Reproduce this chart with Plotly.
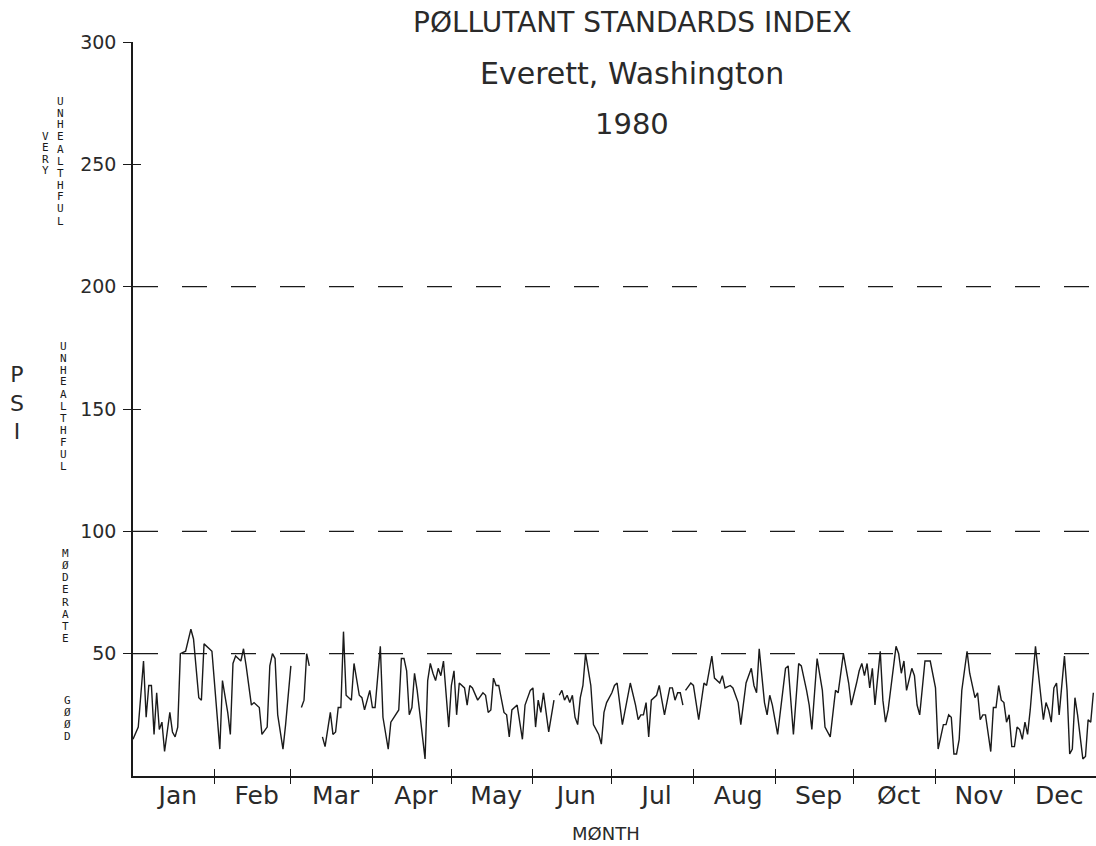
import plotly.graph_objects as go

# ---------------- data (day of year 1980, PSI value) ----------------
month_names = ["Jan", "Feb", "Mar", "Apr", "May", "Jun",
               "Jul", "Aug", "Sep", "Øct", "Nov", "Dec"]
month_starts = [0, 31, 60, 91, 121, 152, 182, 213, 244, 274, 305, 335, 366]
y_ticks = [50, 100, 150, 200, 250, 300]
thresholds = [50, 100, 200]

seg1_day = [0, 2, 4, 5, 6, 7, 8, 9, 10, 11, 12, 14, 15, 16, 17, 18, 20, 22, 23, 25,
            26, 27, 29, 30, 33, 34, 36, 37, 38, 39, 41, 42, 43, 45, 46, 48, 49, 51, 52, 53,
            54, 55, 57, 58, 60]
seg1_psi = [15, 20, 47, 24, 37, 37, 17, 34, 19, 22, 10, 26, 18, 16, 20, 50, 51, 60, 56, 32,
            31, 54, 52, 51, 11, 39, 26, 17, 46, 49, 47, 52, 45, 29, 30, 28, 17, 20, 45, 50,
            48, 25, 11, 21, 45]

seg2_day = [64, 65, 66, 67]
seg2_psi = [28, 31, 50, 45]

seg3_day = [72, 73, 75, 76, 77, 78, 79, 80, 81, 83, 84, 86, 87, 88, 90, 91, 92, 94, 95, 97,
            98, 101, 102, 103, 104, 105, 106, 107, 108, 111, 112, 113, 114, 115, 116, 117, 118, 120, 121, 122,
            123, 124, 126, 127, 128, 129, 131, 133, 134, 135, 136, 137, 138, 139, 141, 142, 143, 144, 146, 148,
            149, 151, 152, 153, 154, 155, 156, 158, 160]
seg3_psi = [16, 12, 26, 17, 18, 28, 28, 59, 33, 31, 46, 33, 32, 27, 35, 28, 28, 53, 24, 11,
            22, 27, 48, 48, 43, 25, 28, 42, 35, 7, 39, 46, 42, 39, 44, 41, 47, 20, 37, 43,
            25, 38, 36, 29, 37, 36, 31, 34, 33, 26, 27, 40, 37, 37, 26, 25, 16, 27, 29, 15,
            29, 35, 36, 20, 31, 26, 34, 18, 31]

seg4_day = [162, 163, 164, 165, 166, 167, 168, 169, 170, 171, 172, 174, 175, 177, 178, 179, 180, 182, 183, 184,
            186, 188, 189, 191, 192, 193, 194, 195, 196, 197, 199, 200, 202, 204, 205, 206, 207, 208, 209]
seg4_psi = [33, 35, 31, 33, 30, 33, 24, 21, 32, 37, 50, 37, 21, 17, 13, 26, 30, 34, 37, 38,
            21, 32, 38, 29, 23, 25, 25, 30, 16, 31, 33, 37, 25, 36, 36, 31, 34, 34, 29]

seg5_day = [210, 212, 213, 215, 217, 218, 220, 221, 223, 224,
            225, 227, 228, 230, 231, 233, 235, 236, 237, 238,
            240, 241, 242, 243, 245, 247, 248, 249, 250, 251,
            253, 254, 256, 257, 258, 260, 262, 263, 265, 266,
            267, 268, 270, 272, 273, 275, 276, 277, 278, 279,
            280, 281, 282, 283, 284, 285, 286, 287, 289, 290,
            291, 292, 293, 294, 296, 297, 298, 299, 301, 303,
            305, 306, 308, 309, 310, 311, 312, 313, 314, 315,
            317, 318, 320, 321, 322, 323, 324, 326, 327, 328,
            329, 330, 331, 332, 333, 334, 335, 336, 337, 338,
            339, 340, 341, 343, 344, 346, 347, 348, 349, 350,
            351, 352, 354, 355, 356, 357, 358, 359, 361, 362,
            363, 364, 365]
seg5_psi = [35, 38, 37, 23, 38, 37, 49, 40, 38, 41,
            36, 37, 36, 30, 21, 38, 44, 37, 34, 52,
            30, 25, 33, 29, 17, 35, 44, 45, 31, 17,
            46, 45, 35, 29, 19, 48, 35, 20, 16, 27,
            35, 34, 50, 38, 29, 38, 43, 46, 41, 46,
            36, 44, 29, 40, 51, 31, 22, 27, 44, 53,
            50, 42, 47, 35, 44, 41, 29, 25, 47, 47,
            36, 11, 21, 21, 25, 24, 9, 9, 15, 35,
            51, 42, 32, 34, 23, 25, 25, 10, 28, 28,
            37, 31, 30, 22, 25, 12, 12, 20, 19, 15,
            22, 17, 27, 53, 43, 23, 30, 27, 22, 36,
            38, 25, 49, 35, 9, 11, 32, 25, 7, 8,
            23, 22, 34]

category_labels = ["VERY", "UNHEALTHFUL", "UNHEALTHFUL", "MØDERATE", "GØØD"]

# ---------------- build ----------------
segments = [(seg1_day, seg1_psi), (seg2_day, seg2_psi), (seg3_day, seg3_psi),
            (seg4_day, seg4_psi), (seg5_day, seg5_psi)]
days, psi = [], []
for d, v in segments:
    days += d + [None]
    psi += v + [None]

W, H = 1096, 846
L, R, T, B = 133, 0, 42, 70
pw, ph = W - L - R, H - T - B


def pxx(x):
    return (x - L) / pw


def pyy(y):
    return (T + ph - y) / ph


INK = "#1a1a1a"
TXT = "#2a2a2a"
FONT = "DejaVu Sans"

fig = go.Figure()
fig.add_trace(go.Scatter(x=days, y=psi, mode="lines", connectgaps=False,
                         line=dict(color=INK, width=1.4), showlegend=False,
                         hoverinfo="skip"))
# helper traces so overlay axes (for crossing tick marks) are drawn
fig.add_trace(go.Scatter(x=[0], y=[0], xaxis="x2", yaxis="y", mode="markers",
                         marker=dict(opacity=0), showlegend=False, hoverinfo="skip"))
fig.add_trace(go.Scatter(x=[0], y=[0], xaxis="x3", yaxis="y2", mode="markers",
                         marker=dict(opacity=0), showlegend=False, hoverinfo="skip"))

mid_months = [(month_starts[i] + month_starts[i + 1]) / 2 for i in range(12)]

for t in thresholds:
    fig.add_shape(type="line", xref="paper", x0=0, x1=1, yref="y", y0=t, y1=t,
                  line=dict(color=INK, width=1.3, dash="25px,24px"))

annotations = []
# titles
for txt, yc, size in [("PØLLUTANT STANDARDS INDEX", 22, 28),
                      ("Everett, Washington", 73, 30),
                      ("1980", 124, 29)]:
    annotations.append(dict(text=txt, xref="paper", yref="paper", x=pxx(632), y=pyy(yc),
                            xanchor="center", yanchor="middle", showarrow=False,
                            font=dict(family=FONT, size=size, color=TXT)))
annotations.append(dict(text="MØNTH", xref="paper", yref="paper", x=pxx(606), y=pyy(833),
                        xanchor="center", yanchor="middle", showarrow=False,
                        font=dict(family=FONT, size=18, color=TXT)))
# PSI stacked
annotations.append(dict(text="P<br>S<br>I", xref="paper", yref="paper", x=pxx(17), y=pyy(403),
                        xanchor="center", yanchor="middle", showarrow=False,
                        font=dict(family=FONT, size=22, color=TXT)))
# category labels, letters stacked vertically
cat_pos = [(45, 131, 11.3), (60, 95, 12.0), (63, 340, 12.0), (65, 547, 12.25), (67, 695, 11.75)]
for word, (xc, ytop, step) in zip(category_labels, cat_pos):
    for i, ch in enumerate(word):
        annotations.append(dict(text=ch, xref="paper", yref="paper", x=pxx(xc),
                                y=pyy(ytop + step * (i + 0.5)),
                                xanchor="center", yanchor="middle", showarrow=False,
                                font=dict(family="DejaVu Sans Mono", size=11, color=INK)))

fig.update_layout(
    width=W, height=H,
    margin=dict(l=L, r=R, t=T, b=B),
    paper_bgcolor="white", plot_bgcolor="white",
    showlegend=False,
    annotations=annotations,
    xaxis=dict(range=[0, 366], tickvals=mid_months, ticktext=month_names,
               ticks="", showline=True, linecolor=INK, linewidth=1.5,
               showgrid=False, zeroline=False, ticklabelstandoff=-4, ticklabelshift=4,
               tickfont=dict(family=FONT, size=25, color=TXT)),
    xaxis2=dict(range=[0, 366], overlaying="x", anchor="y", side="bottom",
                tickvals=month_starts[1:-1], ticks="outside", ticklen=7,
                tickwidth=1.3, tickcolor=INK, showticklabels=False,
                showline=False, showgrid=False, zeroline=False),
    xaxis3=dict(range=[0, 366], overlaying="x", anchor="y2", side="bottom",
                tickvals=month_starts[1:-1], ticks="inside", ticklen=7,
                tickwidth=1.3, tickcolor=INK, showticklabels=False,
                showline=False, showgrid=False, zeroline=False),
    yaxis=dict(range=[0, 300], tickvals=y_ticks, ticks="outside", ticklen=8,
               tickwidth=1.3, tickcolor=INK, showline=True, linecolor=INK,
               linewidth=1.5, showgrid=False, zeroline=False, ticklabelstandoff=3,
               tickfont=dict(family=FONT, size=19, color=TXT)),
    yaxis2=dict(range=[0, 300], overlaying="y", anchor="x", side="left",
                tickvals=y_ticks, ticks="inside", ticklen=8, tickwidth=1.3,
                tickcolor=INK, showticklabels=False, showline=False,
                showgrid=False, zeroline=False),
)

fig.write_html("out.html", config={"displayModeBar": False},
               post_script="document.body.style.margin='0px';")
